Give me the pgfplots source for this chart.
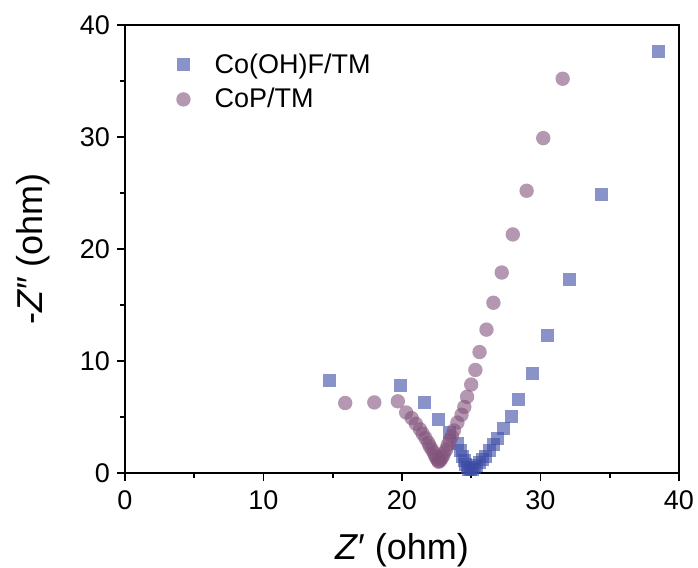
\documentclass[border=0pt]{standalone}
\usepackage{fontspec}
\setmainfont{Liberation Sans}
\usepackage{pgfplots}
\pgfplotsset{compat=1.18}
\definecolor{cblue}{RGB}{60,75,165}
\definecolor{cpurp}{RGB}{130,82,123}
\begin{document}
\begin{tikzpicture}
\begin{axis}[
  name=ax,
  at={(0,0)}, anchor=south west,
  scale only axis, width=277pt, height=224pt,
  xmin=0, xmax=40, ymin=0, ymax=40,
  xtick={0,10,20,30,40}, ytick={0,10,20,30,40},
  minor tick num=1,
  tick align=outside, tick pos=left,
  major tick length=4pt, minor tick length=2.5pt,
  axis line style={line width=0.9pt}, every tick/.style={line width=0.9pt, black},
  tick label style={font=\fontsize{13.5}{16}\selectfont},
  xticklabel style={yshift=-1.5pt},
  /pgf/number format/assume math mode=true,
  xlabel={\fontsize{18}{21}\selectfont \textit{Z}′ (ohm)},
  ylabel={\fontsize{18}{21}\selectfont -\textit{Z}″ (ohm)},
  xlabel style={yshift=-5pt},
  ylabel style={yshift=8pt},
  legend style={draw=none, fill=none, at={(0.081,0.955)}, anchor=north west,
    font=\fontsize{13.5}{16}\selectfont, row sep=2pt,
    /tikz/every odd column/.append style={column sep=10pt}},
  legend cell align=left,
]
\addplot[only marks, mark=square*, mark size=3.25pt, mark options={draw=cblue, draw opacity=0, fill=cblue, fill opacity=0.6}] coordinates {
(14.8,8.3) (19.9,7.8) (21.6,6.3) (22.6,4.8) (23.4,3.6) (24.0,2.6) (24.2,2.0) (24.35,1.5)
(24.5,1.1) (24.6,0.8) (24.7,0.5) (24.8,0.35) (24.95,0.3) (25.1,0.35) (25.25,0.5) (25.4,0.7)
(25.6,0.9) (25.8,1.2) (26.0,1.5) (26.3,2.0) (26.6,2.5) (26.9,3.1) (27.3,4.0) (27.9,5.0)
(28.4,6.6) (29.4,8.9) (30.5,12.3) (32.1,17.3) (34.4,24.9) (38.5,37.6)
};
\addlegendentry{Co(OH)F/TM}
\addplot[only marks, mark=*, mark size=3.6pt, mark options={draw=cpurp, draw opacity=0, fill=cpurp, fill opacity=0.6}] coordinates {
(15.9,6.25) (18.0,6.3) (19.7,6.4) (20.3,5.4) (20.7,4.9) (21.0,4.4) (21.3,3.9) (21.5,3.5)
(21.7,3.1) (21.9,2.7) (22.0,2.4) (22.15,2.1) (22.3,1.8) (22.4,1.5) (22.5,1.3) (22.6,1.1)
(22.65,1.0) (22.75,1.1) (22.85,1.3) (22.95,1.5) (23.05,1.8) (23.2,2.1) (23.3,2.5) (23.45,2.9)
(23.6,3.3) (23.75,3.8) (24.0,4.5) (24.3,5.2) (24.5,5.9) (24.7,6.8) (25.0,7.9) (25.3,9.2)
(25.6,10.8) (26.1,12.8) (26.6,15.2) (27.2,17.9) (28.0,21.3) (29.0,25.2) (30.2,29.9) (31.6,35.2)
};
\addlegendentry{CoP/TM}
\end{axis}
\pgfresetboundingbox
\path[use as bounding box] (-62.5pt,-47.5pt) rectangle (286.5pt,236.5pt);
\end{tikzpicture}
\end{document}
